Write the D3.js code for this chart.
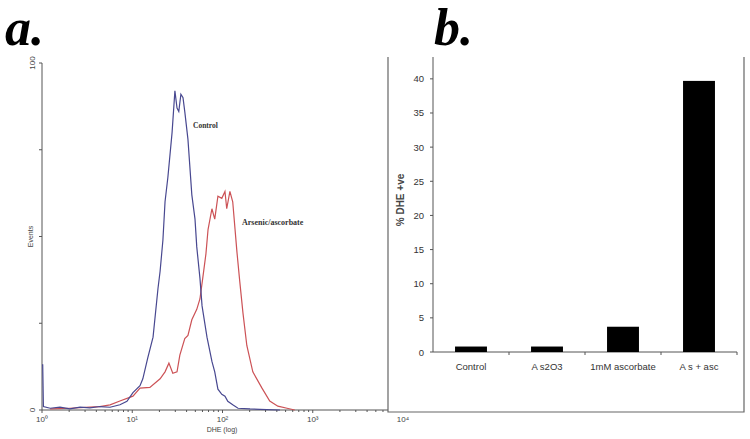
<!DOCTYPE html>
<html><head><meta charset="utf-8">
<script src="https://cdn.jsdelivr.net/npm/d3@7"></script>
<style>body{margin:0;background:#fff}svg{display:block}</style>
</head><body>
<svg id="c" width="750" height="439"></svg>
<script>
// ---- Panel a: flow cytometry histograms (channel 0-1024 = 4 log decades) ----
const controlChannel = [0,2,4,23,51,79,108,136,164,193,221,241,258,278,286,300,315,329,335,343,349,357,369,377,383,388,394,400,405,414,425,434,439,448,454,468,482,490,499,510,519,527,541,556,590,618,675];
const controlEvents  = [13,13,1,0.5,0.8,0.3,0.8,0.6,1,0.8,1.5,2.5,5,7,9,15,21,35,40,49,60,67,80,92,87,86,91,90,86,78,62,55,47,38,30,21,14,11,6,4.5,4,2.5,1.5,0.5,0.3,0.2,0];
const arsenicChannel = [23,79,136,164,193,221,258,278,306,335,349,360,371,383,391,405,414,425,439,448,456,465,471,482,490,499,510,519,524,533,541,553,561,570,581,598,624,646,669,695,717];
const arsenicEvents  = [0.3,0.5,0.8,1,1.5,2.6,4,6.3,6.5,9,11,13.5,10.6,11,15.8,20.6,21.5,26,29,32,38,45,52,58,55,61.6,61,63,58,63,60,45.5,37,28,18.6,11,6.3,2.6,1.1,0.5,0];
const decadeLabels = ["0","1","2","3","4"];
const eventTicks = [0,25,50,75,100];

// ---- Panel b: bar chart ----
const categories = ["Control","A s2O3","1mM ascorbate","A s + asc"];
const dheValues  = [0.8,0.8,3.7,39.7];
const pctTicks   = [0,5,10,15,20,25,30,35,40];

const svg = d3.select("#c");
const axisCol = "#555";
const sup = {"0":"\u2070","1":"\u00b9","2":"\u00b2","3":"\u00b3","4":"\u2074"};

// Panel letters
svg.append("text").attr("x",5).attr("y",45).text("a.")
  .attr("font-family","Liberation Serif, serif").attr("font-style","italic").attr("font-weight","bold").attr("font-size",52);
svg.append("text").attr("x",434).attr("y",45).text("b.")
  .attr("font-family","Liberation Serif, serif").attr("font-style","italic").attr("font-weight","bold").attr("font-size",52);

// --- Panel a scales
const xA = d3.scaleLinear().domain([0,1024]).range([42,403]);
const yA = d3.scaleLinear().domain([0,100]).range([410,63]);

const gA = svg.append("g");
// y axis
gA.append("line").attr("x1",42).attr("x2",42).attr("y1",yA(100)).attr("y2",yA(0)).attr("stroke",axisCol).attr("stroke-width",1);
eventTicks.forEach(t=>{
  gA.append("line").attr("x1",39).attr("x2",42).attr("y1",yA(t)).attr("y2",yA(t)).attr("stroke",axisCol);
});
[0,100].forEach(t=>{
  gA.append("text").attr("transform",`translate(35,${yA(t)}) rotate(-90)`).attr("text-anchor","middle")
    .attr("font-family","Liberation Sans, Arial, sans-serif").attr("font-size",8).attr("fill","#444").text(t);
});
gA.append("text").attr("transform",`translate(33,${yA(50)}) rotate(-90)`).attr("text-anchor","middle")
  .attr("font-family","Liberation Sans, Arial, sans-serif").attr("font-size",7).attr("fill","#444").text("Events");

// x axis
gA.append("line").attr("x1",42).attr("x2",388).attr("y1",410).attr("y2",410).attr("stroke",axisCol);
for(let d=0; d<4; d++){
  for(let k=2;k<=9;k++){
    const ch = 256*(d+Math.log10(k));
    if(xA(ch)<388) gA.append("line").attr("x1",xA(ch)).attr("x2",xA(ch)).attr("y1",410).attr("y2",412).attr("stroke",axisCol);
  }
}
decadeLabels.forEach((lab,i)=>{
  const x = xA(i*256);
  if(x<388) gA.append("line").attr("x1",x).attr("x2",x).attr("y1",410).attr("y2",413).attr("stroke",axisCol);
  gA.append("text").attr("x",x).attr("y",422).attr("text-anchor","middle")
    .attr("font-family","Liberation Sans, Arial, sans-serif").attr("font-size",8).attr("fill","#444").text("10"+sup[lab]);
});
gA.append("text").attr("x",222).attr("y",432).attr("text-anchor","middle")
  .attr("font-family","Liberation Sans, Arial, sans-serif").attr("font-size",7).attr("fill","#444").text("DHE (log)");

const lineA = d3.line().x(d=>xA(d[0])).y(d=>yA(d[1]));
gA.append("path").datum(d3.zip(arsenicChannel,arsenicEvents)).attr("d",lineA)
  .attr("fill","none").attr("stroke","#cc5256").attr("stroke-width",1.2);
gA.append("path").datum(d3.zip(controlChannel,controlEvents)).attr("d",lineA)
  .attr("fill","none").attr("stroke","#484890").attr("stroke-width",1.2);

gA.append("text").attr("x",193).attr("y",128).text("Control")
  .attr("font-family","Liberation Serif, serif").attr("font-size",7.5).attr("font-weight","bold").attr("fill","#333");
gA.append("text").attr("x",242).attr("y",225).text("Arsenic/ascorbate")
  .attr("font-family","Liberation Serif, serif").attr("font-size",8).attr("font-weight","bold").attr("fill","#333");

// --- Panel b
const gB = svg.append("g");
// frame
gB.append("path").attr("d","M388,57V412H744V57").attr("fill","none").attr("stroke","#666").attr("stroke-width",1.2);

const xB = d3.scaleBand().domain(categories).range([433,737]).paddingInner(0.58).paddingOuter(0.29);
const yB = d3.scaleLinear().domain([0,43.2]).range([352,57]);

gB.append("line").attr("x1",433).attr("x2",433).attr("y1",57).attr("y2",352).attr("stroke",axisCol);
pctTicks.forEach(t=>{
  gB.append("line").attr("x1",430).attr("x2",433).attr("y1",yB(t)).attr("y2",yB(t)).attr("stroke",axisCol);
  gB.append("text").attr("x",424).attr("y",yB(t)+3.5).attr("text-anchor","end")
    .attr("font-family","Liberation Sans, Arial, sans-serif").attr("font-size",9.5).attr("fill","#333").text(t);
});
gB.append("line").attr("x1",433).attr("x2",737).attr("y1",352).attr("y2",352).attr("stroke",axisCol);
const step = (737-433)/categories.length;
for(let i=1;i<=categories.length;i++){
  const x = 433+i*step;
  gB.append("line").attr("x1",x).attr("x2",x).attr("y1",352).attr("y2",355).attr("stroke",axisCol);
}
gB.selectAll("rect.bar").data(categories).enter().append("rect")
  .attr("x",d=>xB(d)).attr("width",xB.bandwidth())
  .attr("y",(d,i)=>yB(dheValues[i])).attr("height",(d,i)=>yB(0)-yB(dheValues[i]))
  .attr("fill","#000");
categories.forEach(c=>{
  gB.append("text").attr("x",xB(c)+xB.bandwidth()/2).attr("y",370).attr("text-anchor","middle")
    .attr("font-family","Liberation Sans, Arial, sans-serif").attr("font-size",9.5).attr("fill","#333").text(c);
});
gB.append("text").attr("transform",`translate(404,200) rotate(-90)`).attr("text-anchor","middle")
  .attr("font-family","Liberation Sans, Arial, sans-serif").attr("font-size",10).attr("font-weight","bold").attr("fill","#444").text("% DHE +ve");
</script>
</body></html>
